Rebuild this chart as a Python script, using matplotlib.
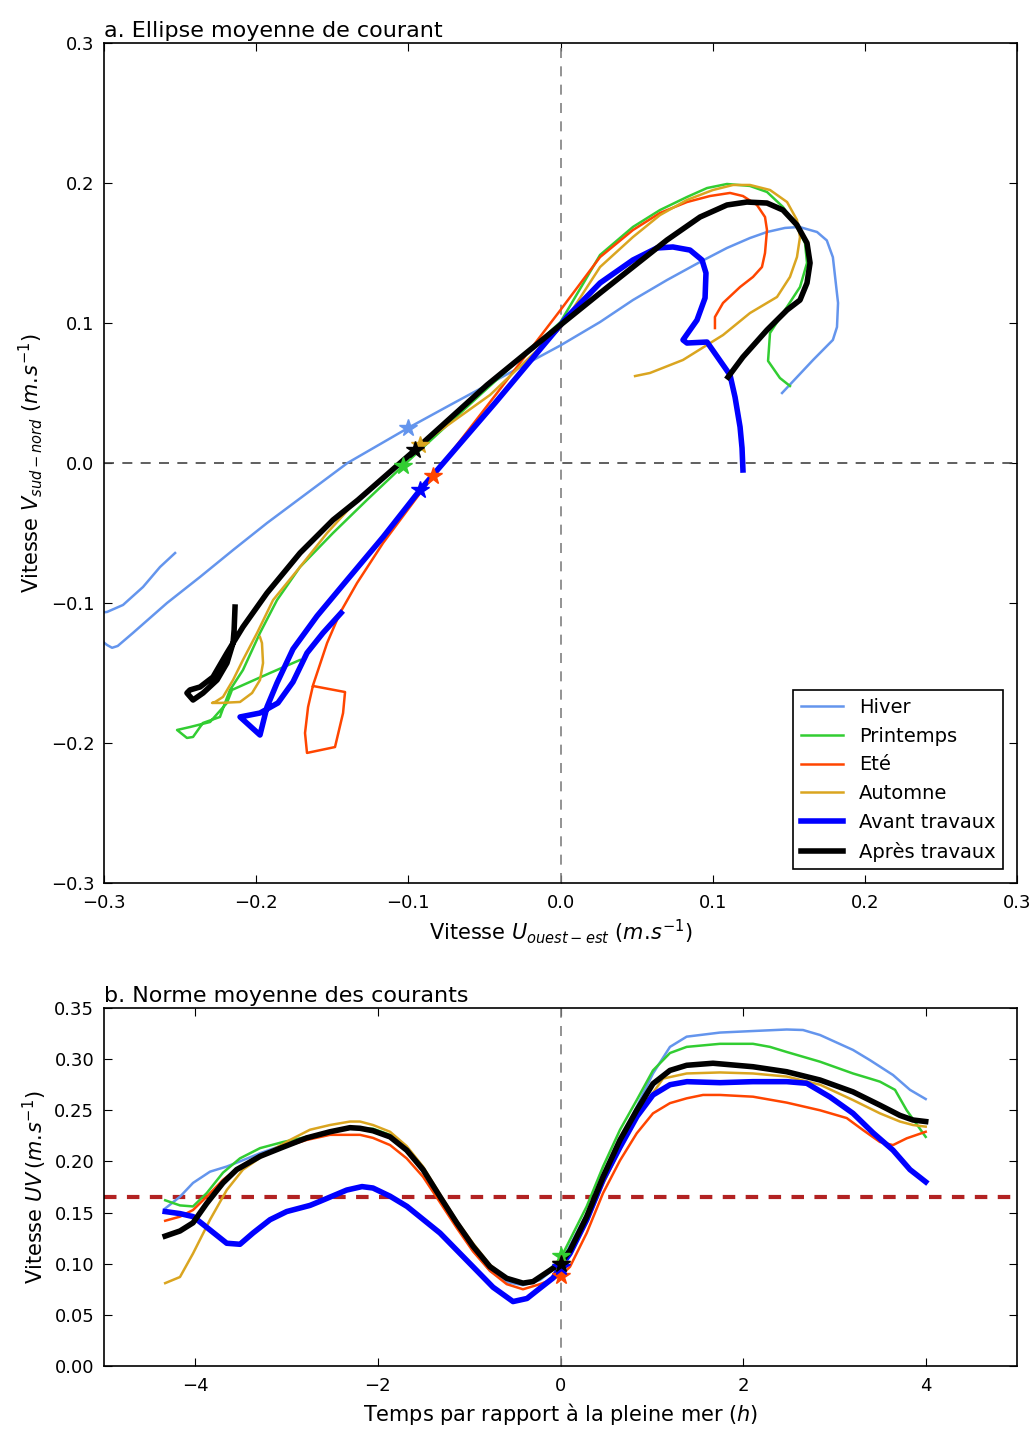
import numpy as np
import matplotlib
matplotlib.use("Agg")
import matplotlib.pyplot as plt

# ---- a. trajectoires (U, V) en m/s, de t=-4.3 h à t=+4 h ----
hiver_u = [0.1456, 0.166, 0.179, 0.1817, 0.1824, 0.179, 0.175, 0.1686, 0.157, 0.1475,
           0.1357, 0.1245, 0.1094, 0.0917, 0.070, 0.0476, 0.026, 0.0, -0.0726, -0.1002,
           -0.140, -0.1929, -0.215, -0.2369, -0.2586, -0.281, -0.291, -0.2947,
           -0.298, -0.31, -0.3027, -0.298, -0.2875, -0.2744, -0.2632, -0.2533]
hiver_v = [0.050, 0.0736, 0.0879, 0.0971, 0.1143, 0.147, 0.159, 0.165, 0.1686, 0.1679,
           0.165, 0.1607, 0.1536, 0.1436, 0.1307, 0.1164, 0.1007, 0.084, 0.0414, 0.025,
           0.0, -0.0429, -0.062, -0.0814, -0.100, -0.1214, -0.1307, -0.132,
           -0.130, -0.12, -0.107, -0.1064, -0.1014, -0.0886, -0.0743, -0.0643]

print_u = [0.1508, 0.1442, 0.1364, 0.1377, 0.1462, 0.1574, 0.162, 0.1607, 0.1554, 0.1462,
           0.1357, 0.1245, 0.1094, 0.0963, 0.0831, 0.0654, 0.0476, 0.026, 0.0, -0.0529,
           -0.1035, -0.1272, -0.1495, -0.1712, -0.1863, -0.1975, -0.2087, -0.2172, -0.2205,
           -0.2238, -0.235, -0.2415, -0.2455, -0.252, -0.2435, -0.2303, -0.2251, -0.2192,
           -0.2159, -0.1909, -0.1712]
print_v = [0.055, 0.0607, 0.0729, 0.0929, 0.1071, 0.1257, 0.1429, 0.1571, 0.1686, 0.1829,
           0.1936, 0.1979, 0.1993, 0.1964, 0.19, 0.1807, 0.1686, 0.1486, 0.1007, 0.0486,
           -0.002, -0.0264, -0.05, -0.0743, -0.0979, -0.1214, -0.1479, -0.1621, -0.1714,
           -0.1814, -0.1857, -0.1957, -0.1964, -0.1907, -0.1886, -0.185, -0.1786, -0.1714,
           -0.1621, -0.15, -0.1407]

ete_u = [0.1015, 0.1015, 0.1068, 0.118, 0.1265, 0.1324, 0.1344, 0.1357, 0.1344, 0.1291,
         0.1199, 0.1114, 0.0982, 0.0831, 0.0654, 0.0476, 0.026, 0.0, -0.0417, -0.0838,
         -0.0956, -0.1166, -0.1337, -0.1449, -0.1534, -0.1626, -0.1659, -0.1679, -0.1666,
         -0.1482, -0.1429, -0.1416, -0.1626]
ete_v = [0.0964, 0.1043, 0.1143, 0.1257, 0.1329, 0.14, 0.15, 0.1664, 0.1757, 0.1843,
         0.1907, 0.1929, 0.1907, 0.1864, 0.1786, 0.1664, 0.1471, 0.1093, 0.05, -0.0093,
         -0.0264, -0.0571, -0.0857, -0.1071, -0.1286, -0.1586, -0.1743, -0.1929, -0.2071,
         -0.2029, -0.1786, -0.1636, -0.1593]

autom_u = [0.049, 0.0588, 0.0805, 0.1068, 0.1245, 0.1423, 0.1508, 0.1554, 0.1574, 0.1554,
           0.1489, 0.1377, 0.1245, 0.1134, 0.1002, 0.0831, 0.0654, 0.0476, 0.026, 0.0,
           -0.0463, -0.0923, -0.1337, -0.1534, -0.1712, -0.1889, -0.1994, -0.2087, -0.2152,
           -0.2218, -0.227, -0.229, -0.2238, -0.2106, -0.2027, -0.1975, -0.1955, -0.1962,
           -0.1975]
autom_v = [0.0621, 0.0643, 0.0736, 0.0914, 0.1071, 0.1186, 0.1329, 0.1471, 0.1614, 0.1736,
           0.1864, 0.195, 0.1986, 0.1986, 0.195, 0.1879, 0.1771, 0.1614, 0.14, 0.0964,
           0.0486, 0.0129, -0.0264, -0.05, -0.0743, -0.0979, -0.1214, -0.1407, -0.155,
           -0.1671, -0.1707, -0.1714, -0.1714, -0.1707, -0.1643, -0.155, -0.1429, -0.1286,
           -0.1243]

avant_u = [0.1199, 0.1193, 0.118, 0.1147, 0.1114, 0.0963, 0.0831, 0.0805, 0.0897, 0.095,
           0.0956, 0.093, 0.0851, 0.0739, 0.0634, 0.0476, 0.026, 0.0043, 0.0, -0.043,
           -0.0923, -0.1166, -0.1403, -0.16, -0.1758, -0.1863, -0.1929, -0.1975, -0.2106,
           -0.1975, -0.1857, -0.1758, -0.1666, -0.1561, -0.1442]
avant_v = [-0.005, 0.0107, 0.0257, 0.0471, 0.0629, 0.0864, 0.0857, 0.0879, 0.1021, 0.1179,
           0.1357, 0.145, 0.1521, 0.1543, 0.1536, 0.145, 0.1286, 0.1043, 0.0986, 0.0429,
           -0.0193, -0.0529, -0.0836, -0.1093, -0.1329, -0.1571, -0.1743, -0.1943, -0.1814,
           -0.1786, -0.1714, -0.1564, -0.1357, -0.1214, -0.1071]

apres_u = [0.1101, 0.1199, 0.1357, 0.1489, 0.1574, 0.162, 0.164, 0.162, 0.1554, 0.1462,
           0.1357, 0.1225, 0.1094, 0.0917, 0.070, 0.0476, 0.026, 0.0, -0.0483, -0.0956,
           -0.1331, -0.1495, -0.1712, -0.1929, -0.2087, -0.2192, -0.2284, -0.2369, -0.2435,
           -0.2455, -0.2415, -0.2349, -0.2257, -0.2192, -0.2152, -0.2145, -0.2139]
apres_v = [0.0614, 0.0757, 0.095, 0.1093, 0.1164, 0.1286, 0.1429, 0.1571, 0.17, 0.1807,
           0.1857, 0.1864, 0.1843, 0.1757, 0.1593, 0.14, 0.1214, 0.0986, 0.0557, 0.0093,
           -0.0264, -0.0407, -0.0643, -0.0929, -0.1171, -0.1357, -0.1529, -0.16, -0.1621,
           -0.1643, -0.1693, -0.1643, -0.155, -0.1429, -0.1286, -0.1193, -0.1029]

# position à la pleine mer (étoiles), ordre: hiver, printemps, été, automne, avant, après
star_u = [-0.1002, -0.1035, -0.0838, -0.0923, -0.0923, -0.0956]
star_v = [0.025, -0.002, -0.0093, 0.0129, -0.0193, 0.0093]

# ---- b. norme moyenne (m/s) en fonction du temps (h) ----
hiver_t = [-4.33, -4.168, -4.025, -3.839, -3.656, -3.511, -3.291, -3.039, -2.78, -2.525,
           -2.306, -2.054, -1.867, -1.685, -1.506, -1.32, -1.137, -0.958, -0.772, -0.589,
           -0.411, -0.225, 0.0, 0.287, 0.466, 0.652, 0.835, 1.013, 1.199, 1.382, 1.747,
           2.108, 2.478, 2.656, 2.843, 3.204, 3.39, 3.642, 3.828, 4.0]
hiver_n = [0.154, 0.1655, 0.179, 0.19, 0.195, 0.2, 0.208, 0.216, 0.223, 0.229,
           0.232, 0.231, 0.224, 0.21, 0.19, 0.163, 0.137, 0.113, 0.093, 0.082,
           0.079, 0.084, 0.100, 0.149, 0.185, 0.221, 0.2535, 0.286, 0.312, 0.322, 0.326,
           0.3275, 0.329, 0.3285, 0.3236, 0.309, 0.299, 0.2845, 0.27, 0.261]

print_t = [-4.33, -4.168, -4.025, -3.875, -3.697, -3.511, -3.291, -3.039, -2.78, -2.525,
           -2.306, -2.054, -1.867, -1.685, -1.506, -1.32, -1.137, -0.958, -0.772, -0.589,
           -0.411, -0.225, 0.0, 0.287, 0.466, 0.652, 0.835, 1.013, 1.199, 1.382, 1.747,
           2.108, 2.294, 2.478, 2.843, 3.204, 3.39, 3.499, 3.664, 3.792, 4.0]
print_n = [0.162, 0.157, 0.156, 0.169, 0.189, 0.203, 0.213, 0.219, 0.224, 0.229,
           0.232, 0.232, 0.226, 0.212, 0.193, 0.166, 0.14, 0.117, 0.097, 0.086,
           0.081, 0.085, 0.105, 0.156, 0.195, 0.231, 0.26, 0.289, 0.306, 0.312, 0.315,
           0.315, 0.312, 0.307, 0.2975, 0.286, 0.281, 0.278, 0.27, 0.25, 0.224]

ete_t = [-4.33, -4.168, -4.025, -3.875, -3.697, -3.511, -3.291, -3.039, -2.78, -2.525,
         -2.306, -2.196, -2.054, -1.867, -1.685, -1.506, -1.32, -1.137, -0.958, -0.772,
         -0.589, -0.411, -0.225, 0.0, 0.104, 0.287, 0.466, 0.652, 0.835, 1.013, 1.199,
         1.382, 1.561, 1.747, 2.108, 2.478, 2.843, 3.135, 3.313, 3.499, 3.642, 3.792, 4.0]
ete_n = [0.142, 0.146, 0.1525, 0.1655, 0.182, 0.195, 0.2046, 0.214, 0.221, 0.226,
         0.226, 0.226, 0.223, 0.216, 0.203, 0.185, 0.16, 0.135, 0.112, 0.093,
         0.08, 0.075, 0.08, 0.088, 0.097, 0.13, 0.169, 0.201, 0.2275, 0.247, 0.257,
         0.2617, 0.265, 0.265, 0.2633, 0.2575, 0.25, 0.2424, 0.2307, 0.219, 0.216, 0.2226, 0.229]

autom_t = [-4.33, -4.168, -4.025, -3.839, -3.656, -3.478, -3.218, -2.963, -2.744, -2.525,
           -2.306, -2.196, -2.054, -1.867, -1.685, -1.506, -1.32, -1.137, -0.958, -0.772,
           -0.589, -0.411, -0.301, 0.0, 0.104, 0.287, 0.466, 0.652, 0.835, 1.013, 1.123,
           1.382, 1.747, 2.108, 2.478, 2.843, 3.204, 3.499, 3.718, 3.861, 4.0]
autom_n = [0.081, 0.087, 0.11, 0.143, 0.172, 0.192, 0.208, 0.221, 0.231, 0.2356,
           0.239, 0.239, 0.2356, 0.229, 0.215, 0.195, 0.168, 0.142, 0.12, 0.099,
           0.086, 0.08, 0.082, 0.10, 0.11, 0.14, 0.178, 0.212, 0.242, 0.267, 0.281,
           0.286, 0.287, 0.286, 0.283, 0.275, 0.26, 0.247, 0.239, 0.2356, 0.234]

avant_t = [-4.33, -4.168, -4.022, -3.656, -3.511, -3.368, -3.182, -2.999, -2.744, -2.634,
           -2.342, -2.174, -2.054, -1.867, -1.681, -1.32, -0.958, -0.739, -0.52, -0.367,
           -0.225, -0.082, 0.0, 0.104, 0.287, 0.466, 0.652, 0.838, 1.013, 1.199, 1.385,
           1.747, 2.108, 2.478, 2.697, 2.952, 3.204, 3.423, 3.642, 3.828, 4.0]
avant_n = [0.151, 0.149, 0.146, 0.12, 0.119, 0.130, 0.143, 0.151, 0.157, 0.161,
           0.172, 0.1754, 0.174, 0.166, 0.156, 0.130, 0.097, 0.077, 0.063, 0.066,
           0.076, 0.086, 0.097, 0.11, 0.143, 0.182, 0.214, 0.244, 0.265, 0.275, 0.278,
           0.277, 0.278, 0.278, 0.2764, 0.263, 0.247, 0.228, 0.211, 0.192, 0.18]

apres_t = [-4.33, -4.168, -4.025, -3.875, -3.697, -3.547, -3.291, -3.039, -2.78, -2.525,
           -2.306, -2.196, -2.054, -1.867, -1.685, -1.506, -1.32, -1.137, -0.958, -0.772,
           -0.589, -0.411, -0.301, 0.0, 0.104, 0.287, 0.466, 0.652, 0.835, 1.013, 1.199,
           1.382, 1.67, 2.108, 2.478, 2.843, 3.204, 3.499, 3.718, 3.861, 4.0]
apres_n = [0.127, 0.132, 0.14, 0.159, 0.179, 0.192, 0.205, 0.214, 0.223, 0.229,
           0.233, 0.2324, 0.23, 0.224, 0.211, 0.192, 0.1655, 0.14, 0.117, 0.097,
           0.0857, 0.081, 0.0825, 0.1004, 0.113, 0.146, 0.185, 0.221, 0.25, 0.276, 0.289,
           0.294, 0.296, 0.2926, 0.2877, 0.2796, 0.268, 0.255, 0.245, 0.2405, 0.239]

# norme à la pleine mer (étoiles)
star_n = [0.100, 0.108, 0.088, 0.100, 0.097, 0.100]
seuil = 0.165

noms = ["Hiver", "Printemps", "Eté", "Automne", "Avant travaux", "Après travaux"]
couleurs = ["#6495ED", "#32CD32", "#FF4500", "#DAA520", "#0000FF", "#000000"]
epaisseurs = [1.8, 1.8, 1.8, 1.8, 4, 4]

traj = [(hiver_u, hiver_v), (print_u, print_v), (ete_u, ete_v),
        (autom_u, autom_v), (avant_u, avant_v), (apres_u, apres_v)]
normes = [(hiver_t, hiver_n), (print_t, print_n), (ete_t, ete_n),
          (autom_t, autom_n), (avant_t, avant_n), (apres_t, apres_n)]

plt.rcParams["xtick.direction"] = "in"
plt.rcParams["ytick.direction"] = "in"
plt.rcParams["xtick.top"] = True
plt.rcParams["ytick.right"] = True
plt.rcParams["xtick.major.size"] = 6
plt.rcParams["ytick.major.size"] = 6
plt.rcParams["xtick.major.pad"] = 8
plt.rcParams["ytick.major.pad"] = 7
plt.rcParams["font.size"] = 13

fig = plt.figure(figsize=(10.35, 14.29), dpi=100)
ax1 = fig.add_axes([0.1005, 0.3821, 0.8821, 0.5878])
ax2 = fig.add_axes([0.1005, 0.0441, 0.8821, 0.2505])

unite = r"$(m.\!s^{-1})$"

# --- a ---
ax1.axvline(0, color="gray", ls="--", lw=1.2, dashes=(6, 5))
ax1.axhline(0, color="#444444", ls="--", lw=1.2, dashes=(6, 5))
for (u, v), nom, c, lw in zip(traj, noms, couleurs, epaisseurs):
    ax1.plot(u, v, color=c, lw=lw, label=nom, solid_joinstyle="round")
for su, sv, c in zip(star_u, star_v, couleurs):
    ax1.plot([su], [sv], marker="*", color=c, ms=13, mec=c, ls="none")
ax1.set_xlim(-0.3, 0.3)
ax1.set_ylim(-0.3, 0.3)
ax1.set_xticks(np.arange(-0.3, 0.31, 0.1))
ax1.set_yticks(np.arange(-0.3, 0.31, 0.1))
ax1.set_xlabel(r"Vitesse $U_{ouest-est}$ " + unite, fontsize=15)
ax1.set_ylabel(r"Vitesse $V_{sud-nord}$ " + unite, fontsize=15)
ax1.set_title("a. Ellipse moyenne de courant", loc="left", fontsize=16, pad=4)
leg = ax1.legend(loc="lower right", fontsize=14, fancybox=False, framealpha=1,
                 edgecolor="black", handlelength=2.2, borderaxespad=0.7)
leg.get_frame().set_linewidth(1.2)

# --- b ---
ax2.axvline(0, color="gray", ls="--", lw=1.2, dashes=(6, 5))
ax2.axhline(seuil, color="#B22222", ls="--", lw=3, dashes=(3, 2.5))
for (t, n), c, lw in zip(normes, couleurs, epaisseurs):
    ax2.plot(t, n, color=c, lw=lw, solid_joinstyle="round")
for sn, c in zip(star_n, couleurs):
    ax2.plot([0.0], [sn], marker="*", color=c, ms=13, mec=c, ls="none")
ax2.set_xlim(-5, 5)
ax2.set_ylim(0, 0.35)
ax2.set_xticks([-4, -2, 0, 2, 4])
ax2.set_yticks(np.arange(0, 0.351, 0.05))
ax2.set_yticklabels([f"{y:.2f}" for y in np.arange(0, 0.351, 0.05)])
ax2.set_xlabel(r"Temps par rapport à la pleine mer $(h)$", fontsize=15)
ax2.set_ylabel(r"Vitesse $UV\,$" + unite, fontsize=15)
ax2.set_title("b. Norme moyenne des courants", loc="left", fontsize=16, pad=4)

for ax in (ax1, ax2):
    for s in ax.spines.values():
        s.set_linewidth(1.2)

fig.savefig("out.png", dpi=100)
